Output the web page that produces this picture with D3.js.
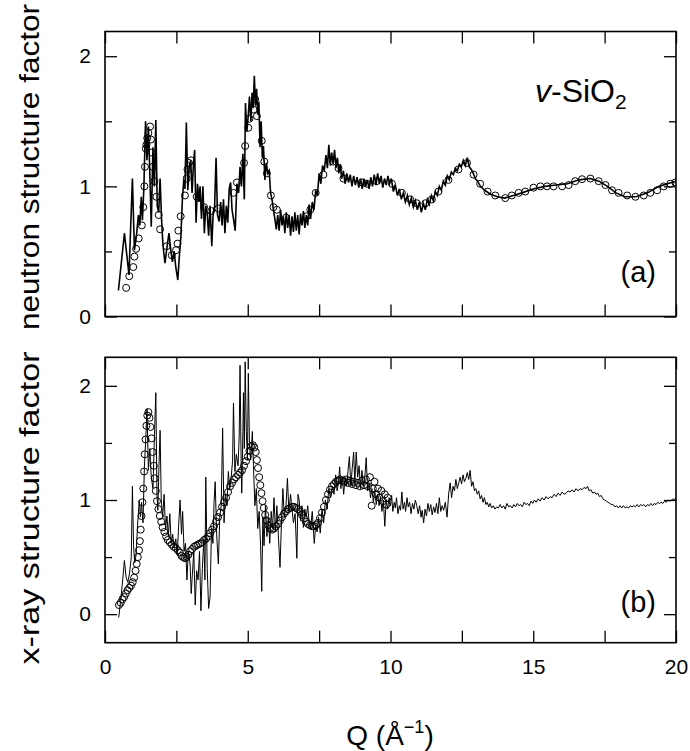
<!DOCTYPE html>
<html><head><meta charset="utf-8">
<script src="https://cdn.jsdelivr.net/npm/d3@7"></script>
<style>
body{margin:0;background:#fff}
text{font-family:"Liberation Sans",Arial,Helvetica,sans-serif;fill:#000}
</style>
</head><body>
<svg id="c" width="690" height="751"></svg>
<script>
// ---------------- data ----------------
const xTickValues = [0,2.5,5,7.5,10,12.5,15,17.5,20];
const xTickLabels = ["0","5","10","15","20"];
const yMajorTicks = [0,1,2];
const yMinorTicks = [0.5,1.5];

// panel (a): neutron structure factor, simulation (line)
const neutronLine = [
[0.47,0.20],[0.68,0.64],[0.84,0.32],[0.96,1.06],[1.03,0.51],[1.10,0.62],[1.17,0.78],[1.22,0.70],[1.27,0.92],[1.31,0.74],
[1.36,0.98],[1.42,1.50],[1.47,1.20],[1.52,1.46],[1.57,1.10],[1.62,0.69],[1.68,1.30],[1.73,1.00],[1.78,1.51],[1.83,0.85],
[1.88,0.80],[1.93,1.06],[1.98,0.75],[2.03,0.55],[2.10,0.41],[2.17,0.53],[2.24,0.64],[2.30,0.52],[2.36,0.42],[2.42,0.50],
[2.48,0.38],[2.55,0.28],[2.60,0.45],[2.66,0.62],[2.71,0.90],[2.76,1.05],[2.80,0.98],[2.85,1.49],[2.90,0.97],[2.95,1.15],
[3.00,1.20],[3.05,0.95],[3.10,1.18],[3.14,1.28],[3.19,0.72],[3.24,1.02],[3.29,0.88],[3.33,1.00],[3.38,0.75],[3.43,1.00],
[3.48,0.64],[3.53,0.85],[3.58,0.79],[3.63,0.62],[3.68,0.85],[3.74,0.54],[3.79,0.80],[3.84,0.85],[3.89,1.22],[3.94,0.78],
[4.00,0.73],[4.05,0.88],[4.10,0.70],[4.15,0.90],[4.20,0.64],[4.25,0.85],[4.30,0.72],[4.35,0.98],[4.40,1.03],[4.45,0.82],
[4.50,0.75],[4.56,0.66],[4.62,1.02],[4.68,0.95],[4.73,1.15],[4.78,1.00],[4.83,1.25],[4.88,0.90],[4.92,1.64],[4.97,1.42],
[5.02,1.55],[5.06,1.69],[5.11,1.50],[5.15,1.72],[5.19,1.60],[5.23,1.85],[5.27,1.62],[5.31,1.75],[5.35,1.55],[5.39,1.65],
[5.43,1.30],[5.47,1.50],[5.51,1.22],[5.55,1.31],[5.60,1.05],[5.65,1.18],[5.70,1.10],[5.75,1.12],[5.80,0.95],[5.85,0.90],
[5.90,0.82],[5.95,0.75],[6.00,0.67],[6.05,0.78],[6.10,0.66],[6.15,0.82],[6.20,0.70],[6.25,0.77],[6.30,0.64],[6.35,0.80],
[6.40,0.68],[6.45,0.78],[6.50,0.62],[6.55,0.77],[6.60,0.65],[6.65,0.80],[6.70,0.66],[6.75,0.78],[6.80,0.63],[6.85,0.79],
[6.90,0.70],[6.95,0.81],[7.00,0.68],[7.05,0.78],[7.10,0.70],[7.15,0.86],[7.20,0.75],[7.26,0.88],[7.32,0.82],[7.38,0.97],
[7.44,0.93],[7.50,1.10],[7.56,1.02],[7.62,1.16],[7.68,1.12],[7.74,1.24],[7.79,1.14],[7.84,1.32],[7.89,1.16],[7.94,1.26],
[7.99,1.17],[8.04,1.28],[8.09,1.14],[8.14,1.22],[8.19,1.10],[8.24,1.17],[8.29,1.06],[8.35,1.12],[8.41,1.02],[8.47,1.10],
[8.53,1.03],[8.59,1.09],[8.65,1.00],[8.71,1.08],[8.77,1.01],[8.83,1.07],[8.89,0.99],[8.95,1.06],[9.01,0.98],[9.07,1.06],
[9.13,1.00],[9.19,1.05],[9.25,0.98],[9.31,1.07],[9.37,1.00],[9.43,1.09],[9.49,1.01],[9.55,1.10],[9.61,1.02],[9.67,1.08],
[9.73,0.99],[9.79,1.06],[9.85,1.01],[9.91,1.08],[9.97,1.02],[10.03,1.06],[10.10,0.96],[10.17,1.01],[10.24,0.93],[10.31,0.98],
[10.38,0.90],[10.45,0.95],[10.52,0.88],[10.59,0.93],[10.66,0.86],[10.73,0.91],[10.80,0.84],[10.87,0.89],[10.94,0.82],[11.01,0.88],
[11.08,0.80],[11.15,0.87],[11.22,0.82],[11.29,0.90],[11.36,0.86],[11.43,0.93],[11.50,0.89],[11.57,0.96],[11.64,0.93],[11.71,1.00],
[11.78,0.97],[11.85,1.04],[11.92,1.01],[11.99,1.08],[12.06,1.05],[12.13,1.11],[12.20,1.09],[12.27,1.14],[12.34,1.12],[12.41,1.17],
[12.48,1.15],[12.55,1.20],[12.62,1.16],[12.69,1.22],[12.76,1.15],[12.83,1.13],[12.90,1.10],[12.97,1.06],[13.05,1.04],[13.15,1.00],
[13.30,0.97],[13.50,0.94],[13.75,0.92],[14.00,0.91],[14.30,0.93],[14.60,0.95],[15.00,0.98],[15.40,1.00],[15.80,1.01],[16.20,1.02],
[16.60,1.05],[17.00,1.06],[17.30,1.04],[17.60,1.00],[17.90,0.95],[18.20,0.92],[18.60,0.92],[19.00,0.95],[19.40,1.00],[19.70,1.02],
[20.00,1.04]
];

// panel (a): neutron structure factor, experiment (circles)
const neutronCircles = [
[0.74,0.22],[0.85,0.31],[0.99,0.38],[1.03,0.46],[1.09,0.52],[1.18,0.60],[1.29,0.70],[1.34,0.84],[1.38,1.00],[1.40,1.15],
[1.43,1.29],[1.45,1.32],[1.48,1.37],[1.52,1.41],[1.58,1.46],[1.61,1.36],[1.64,1.26],[1.67,1.15],[1.73,1.04],[1.80,0.92],
[1.88,0.78],[1.93,0.67],[2.16,0.54],[2.34,0.47],[2.49,0.51],[2.54,0.56],[2.57,0.66],[2.65,0.77],[2.80,0.93],[2.86,1.06],
[2.89,1.13],[2.94,1.18],[3.01,1.20],[3.21,0.92],[3.47,0.84],[3.72,0.81],[3.97,0.83],[4.50,0.95],[4.62,1.03],[4.87,1.18],
[4.91,1.31],[5.02,1.45],[5.06,1.52],[5.20,1.59],[5.26,1.67],[5.32,1.54],[5.49,1.35],[5.58,1.19],[5.67,1.10],[5.81,0.93],
[5.90,0.84],[6.02,0.82],[6.34,0.76],[7.07,0.77],[7.19,0.82],[7.38,0.95],[7.65,1.09],[8.00,1.19],[8.18,1.14],[8.35,1.06],
[9.00,1.03],[9.17,1.02],[9.52,1.04],[10.05,1.02],[10.40,0.95],[10.69,0.90],[10.92,0.87],[11.22,0.87],[11.45,0.90],[11.68,0.96],
[12.03,1.05],[12.38,1.13],[12.68,1.18],[12.91,1.09],[13.14,1.02],[13.40,0.96],[13.67,0.93],[14.02,0.91],[14.25,0.93],[14.49,0.95],
[14.72,0.96],[15.01,0.99],[15.25,1.00],[15.48,1.00],[15.71,1.00],[16.01,1.00],[16.24,1.01],[16.47,1.04],[16.71,1.055],[17.00,1.06],
[17.29,1.04],[17.53,1.01],[17.76,0.97],[17.99,0.95],[18.29,0.93],[18.58,0.92],[18.87,0.93],[19.10,0.95],[19.34,0.97],[19.57,1.00],
[19.80,1.02],[19.98,1.03]
];

// panel (b): x-ray structure factor, simulation (line)
const xrayLine = [
[0.48,-0.03],[0.55,0.12],[0.62,0.30],[0.68,0.47],[0.74,0.32],[0.80,0.28],[0.86,0.36],[0.92,0.50],[0.96,1.12],[1.00,0.60],
[1.04,0.45],[1.09,0.52],[1.14,0.78],[1.20,1.00],[1.24,0.85],[1.28,0.98],[1.33,0.80],[1.38,1.29],[1.43,1.55],[1.47,1.80],
[1.52,1.26],[1.57,1.45],[1.62,1.20],[1.68,1.10],[1.73,1.55],[1.78,1.94],[1.82,1.05],[1.85,0.91],[1.89,1.30],[1.93,1.61],
[1.97,1.00],[2.02,0.85],[2.07,1.05],[2.12,0.75],[2.17,0.86],[2.22,0.68],[2.27,0.88],[2.32,0.62],[2.37,0.70],[2.42,0.58],
[2.48,0.66],[2.53,0.52],[2.58,0.78],[2.63,1.00],[2.68,0.70],[2.72,0.90],[2.77,0.55],[2.82,0.62],[2.87,0.30],[2.92,0.55],
[2.98,0.44],[3.02,0.18],[3.06,0.35],[3.11,0.55],[3.16,0.08],[3.21,0.38],[3.26,0.30],[3.31,0.55],[3.36,0.03],[3.41,0.40],
[3.46,0.65],[3.50,0.30],[3.53,1.20],[3.58,0.40],[3.63,0.05],[3.68,0.15],[3.73,0.75],[3.78,0.62],[3.82,0.98],[3.86,1.16],
[3.91,0.70],[3.97,0.44],[4.02,0.85],[4.07,0.95],[4.12,1.63],[4.17,0.80],[4.22,1.05],[4.27,0.95],[4.32,1.25],[4.37,1.10],
[4.42,1.20],[4.47,1.35],[4.50,1.85],[4.55,1.25],[4.60,1.40],[4.66,1.30],[4.70,1.55],[4.73,2.18],[4.77,1.30],[4.79,1.06],
[4.83,1.60],[4.85,1.94],[4.88,1.45],[4.91,2.21],[4.95,1.60],[4.99,1.35],[5.02,2.11],[5.06,1.50],[5.10,1.35],[5.13,1.45],
[5.16,1.60],[5.20,1.30],[5.25,0.95],[5.30,1.10],[5.35,0.75],[5.40,0.90],[5.45,0.60],[5.49,0.20],[5.53,0.85],[5.57,0.60],
[5.62,0.95],[5.67,0.68],[5.72,0.85],[5.77,0.62],[5.82,0.90],[5.87,0.75],[5.92,1.02],[5.97,0.72],[6.02,0.95],[6.07,0.70],
[6.13,0.41],[6.18,0.80],[6.23,1.10],[6.28,0.85],[6.34,0.95],[6.39,1.19],[6.44,0.90],[6.50,1.05],[6.55,0.92],[6.60,0.80],
[6.66,0.88],[6.72,0.49],[6.76,1.05],[6.80,1.00],[6.85,0.82],[6.90,0.95],[6.95,0.76],[7.00,0.92],[7.05,0.85],[7.10,0.95],
[7.15,0.80],[7.20,0.75],[7.26,0.90],[7.33,0.62],[7.38,0.78],[7.43,0.72],[7.48,0.85],[7.54,0.71],[7.60,0.92],[7.66,0.80],
[7.72,1.00],[7.78,0.92],[7.84,1.10],[7.90,1.02],[7.96,1.12],[8.02,1.05],[8.08,1.22],[8.13,1.08],[8.18,1.15],[8.22,1.29],
[8.26,1.10],[8.31,1.20],[8.36,1.05],[8.41,1.20],[8.46,1.12],[8.51,1.25],[8.56,1.38],[8.61,1.12],[8.66,1.28],[8.71,1.42],
[8.75,1.15],[8.80,1.42],[8.85,1.20],[8.90,1.30],[8.95,1.10],[9.00,1.26],[9.05,1.12],[9.10,1.20],[9.15,1.37],[9.20,1.08],
[9.25,1.15],[9.30,1.02],[9.35,1.10],[9.40,0.98],[9.45,1.08],[9.50,0.96],[9.55,1.05],[9.60,0.95],[9.65,1.03],[9.70,0.90],
[9.75,1.00],[9.80,0.77],[9.85,1.00],[9.90,0.92],[9.95,1.02],[10.00,0.95],[10.04,1.04],[10.08,0.90],[10.13,0.98],[10.17,0.93],
[10.21,1.02],[10.26,0.88],[10.31,0.95],[10.35,0.91],[10.40,1.07],[10.44,0.92],[10.49,0.98],[10.53,0.90],[10.58,1.02],[10.62,0.94],
[10.67,0.98],[10.72,0.88],[10.77,0.97],[10.82,0.92],[10.87,1.00],[10.92,0.95],[10.97,0.88],[11.02,0.95],[11.07,0.85],[11.11,0.91],
[11.16,0.80],[11.21,0.92],[11.26,0.86],[11.31,0.97],[11.36,0.90],[11.41,0.96],[11.46,0.87],[11.51,0.94],[11.56,0.89],[11.61,0.97],
[11.66,0.88],[11.71,1.02],[11.76,0.90],[11.81,0.95],[11.86,0.91],[11.92,0.98],[11.98,0.85],[12.04,1.06],[12.09,1.15],[12.14,1.02],
[12.19,1.12],[12.24,1.08],[12.29,1.18],[12.34,1.10],[12.39,1.15],[12.44,1.20],[12.49,1.14],[12.54,1.22],[12.59,1.16],[12.64,1.19],
[12.69,1.24],[12.74,1.18],[12.79,1.26],[12.84,1.12],[12.89,1.16],[12.94,1.08],[12.99,1.10],[13.04,1.05],[13.09,1.08],[13.14,1.01],
[13.19,1.04],[13.24,0.98],[13.29,1.02],[13.34,0.96],[13.39,0.98],[13.44,0.94],[13.49,0.97],[13.54,0.93],[13.60,0.95],[13.66,0.92],
[13.72,0.94],[13.78,0.93],[13.84,0.96],[13.90,0.93],[13.96,0.95],[14.02,0.92],[14.08,0.97],[14.14,0.94],[14.20,0.95],[14.26,0.93],
[14.32,0.96],[14.38,0.94],[14.44,0.97],[14.50,0.95],[14.56,0.96],[14.62,0.94],[14.68,0.98],[14.74,0.96],[14.80,0.97],[14.86,0.95],
[14.92,0.99],[14.98,0.97],[15.04,1.00],[15.10,0.98],[15.17,1.01],[15.24,0.99],[15.31,1.02],[15.38,1.00],[15.45,1.03],[15.52,1.01],
[15.59,1.03],[15.66,1.02],[15.73,1.05],[15.80,1.03],[15.87,1.06],[15.94,1.04],[16.01,1.07],[16.08,1.05],[16.15,1.06],[16.22,1.08],
[16.29,1.07],[16.36,1.09],[16.43,1.07],[16.50,1.10],[16.57,1.08],[16.64,1.10],[16.71,1.09],[16.78,1.11],[16.85,1.10],[16.90,1.12],
[16.96,1.08],[17.02,1.09],[17.08,1.06],[17.14,1.07],[17.20,1.05],[17.26,1.06],[17.32,1.03],[17.38,1.04],[17.44,1.01],[17.50,1.00],
[17.56,0.99],[17.62,0.98],[17.68,0.97],[17.74,0.96],[17.80,0.96],[17.86,0.94],[17.92,0.95],[17.98,0.93],[18.04,0.95],[18.10,0.93],
[18.16,0.95],[18.22,0.93],[18.28,0.94],[18.34,0.93],[18.40,0.95],[18.46,0.94],[18.52,0.95],[18.58,0.94],[18.64,0.96],[18.70,0.94],
[18.76,0.96],[18.82,0.95],[18.88,0.96],[18.94,0.94],[19.00,0.96],[19.06,0.95],[19.12,0.97],[19.18,0.95],[19.24,0.97],[19.30,0.96],
[19.36,0.98],[19.42,0.97],[19.48,0.98],[19.54,0.97],[19.60,0.99],[19.66,0.98],[19.72,1.00],[19.78,0.99],[19.84,1.00],[19.90,1.01],
[19.95,1.00],[20.00,1.02]
];

// panel (b): x-ray structure factor, experiment (circles)
const xrayCircles = [
[0.49,0.08],[0.55,0.10],[0.61,0.13],[0.67,0.15],[0.73,0.18],[0.79,0.21],[0.85,0.23],[0.91,0.25],[0.97,0.28],[1.02,0.32],
[1.07,0.38],[1.11,0.44],[1.15,0.50],[1.19,0.56],[1.22,0.64],[1.25,0.74],[1.28,0.86],[1.31,0.98],[1.34,1.10],[1.37,1.25],
[1.39,1.40],[1.42,1.53],[1.45,1.65],[1.48,1.74],[1.52,1.77],[1.56,1.72],[1.59,1.64],[1.63,1.54],[1.67,1.42],[1.71,1.30],
[1.74,1.19],[1.78,1.08],[1.82,0.99],[1.87,0.92],[1.92,0.86],[1.97,0.81],[2.02,0.76],[2.08,0.72],[2.14,0.68],[2.20,0.65],
[2.27,0.63],[2.34,0.61],[2.41,0.59],[2.48,0.58],[2.55,0.56],[2.62,0.54],[2.68,0.51],[2.74,0.50],[2.80,0.49],[2.86,0.50],
[2.92,0.52],[2.98,0.55],[3.05,0.57],[3.12,0.59],[3.19,0.60],[3.26,0.61],[3.33,0.62],[3.40,0.63],[3.47,0.65],[3.54,0.66],
[3.61,0.68],[3.68,0.71],[3.75,0.74],[3.82,0.77],[3.89,0.81],[3.96,0.85],[4.03,0.89],[4.10,0.94],[4.17,0.98],[4.24,1.02],
[4.31,1.07],[4.38,1.12],[4.45,1.15],[4.52,1.18],[4.59,1.20],[4.66,1.22],[4.73,1.24],[4.80,1.26],[4.87,1.30],[4.94,1.34],
[5.00,1.38],[5.06,1.43],[5.12,1.47],[5.18,1.48],[5.23,1.46],[5.28,1.42],[5.32,1.35],[5.36,1.28],[5.40,1.20],[5.44,1.13],
[5.48,1.06],[5.52,0.99],[5.56,0.93],[5.61,0.87],[5.66,0.82],[5.72,0.78],[5.78,0.75],[5.85,0.74],[5.92,0.75],[5.99,0.77],
[6.06,0.79],[6.13,0.82],[6.20,0.85],[6.27,0.88],[6.34,0.90],[6.41,0.92],[6.48,0.93],[6.55,0.94],[6.62,0.94],[6.69,0.93],
[6.76,0.92],[6.83,0.90],[6.90,0.87],[6.97,0.84],[7.04,0.81],[7.11,0.79],[7.18,0.78],[7.25,0.77],[7.32,0.77],[7.39,0.78],
[7.46,0.80],[7.53,0.84],[7.60,0.89],[7.67,0.94],[7.74,1.00],[7.81,1.05],[7.88,1.09],[7.95,1.12],[8.02,1.14],[8.09,1.16],
[8.16,1.17],[8.23,1.18],[8.30,1.17],[8.37,1.16],[8.44,1.18],[8.51,1.15],[8.58,1.17],[8.65,1.14],[8.72,1.16],[8.79,1.13],
[8.86,1.15],[8.93,1.12],[9.00,1.17],[9.07,1.13],[9.14,1.18],[9.21,1.12],[9.28,1.20],[9.34,0.95],[9.38,1.10],[9.44,1.16],
[9.50,1.05],[9.56,1.10],[9.62,1.02],[9.68,1.08],[9.74,0.99],[9.80,1.05],[9.86,0.96],[9.90,1.02]
];

// ---------------- drawing ----------------
const svg = d3.select("#c");
const X0 = 105, X1 = 676;
const x = d3.scaleLinear().domain([0,20]).range([X0,X1]);
const panels = [
  {id:"a", top:31.5, bottom:316.5, domain:[0,2.19], line:neutronLine, circ:neutronCircles, lw:1.6,
   title:"neutron structure factor", tcy:167, tlen:326, tag:"(a)", tagY:282},
  {id:"b", top:357.3, bottom:642.7, domain:[-0.25,2.25], line:xrayLine, circ:xrayCircles, lw:1.0,
   title:"x-ray structure factor", tcy:508, tlen:313, tag:"(b)", tagY:612}
];

panels.forEach((p, i) => {
  const y = d3.scaleLinear().domain(p.domain).range([p.bottom, p.top]);
  const g = svg.append("g");
  const clipId = "clip"+p.id;
  svg.append("clipPath").attr("id", clipId).append("rect")
    .attr("x", X0).attr("y", p.top).attr("width", X1-X0).attr("height", p.bottom-p.top);

  const plot = g.append("g").attr("clip-path", `url(#${clipId})`);
  plot.append("path").datum(p.line)
    .attr("d", d3.line().x(d=>x(d[0])).y(d=>y(d[1])))
    .attr("fill","none").attr("stroke","#000").attr("stroke-width",p.lw).attr("stroke-linejoin","miter");
  plot.selectAll("circle").data(p.circ).join("circle")
    .attr("cx", d=>x(d[0])).attr("cy", d=>y(d[1])).attr("r", 3.5)
    .attr("fill","none").attr("stroke","#000").attr("stroke-width",1);

  // axes (ticks inward)
  const isBottom = i === 1;
  const fmt = v => (isBottom && v % 5 === 0) ? xTickLabels[v/5] : "";
  const axB = g.append("g").attr("transform",`translate(0,${p.bottom})`)
    .call(d3.axisBottom(x).tickValues(xTickValues).tickSize(-12).tickSizeOuter(0).tickPadding(16).tickFormat(fmt));
  const axT = g.append("g").attr("transform",`translate(0,${p.top})`)
    .call(d3.axisTop(x).tickValues(xTickValues).tickSize(-12).tickSizeOuter(0).tickFormat(""));
  const axL = g.append("g").attr("transform",`translate(${X0},0)`)
    .call(d3.axisLeft(y).tickValues(yMajorTicks).tickSize(-12).tickSizeOuter(0).tickPadding(14).tickFormat(d3.format("d")));
  const axLm = g.append("g").attr("transform",`translate(${X0},0)`)
    .call(d3.axisLeft(y).tickValues(yMinorTicks).tickSize(-7).tickSizeOuter(0).tickFormat(""));
  const axR = g.append("g").attr("transform",`translate(${X1},0)`)
    .call(d3.axisRight(y).tickValues(yMajorTicks).tickSize(-12).tickSizeOuter(0).tickFormat(""));
  const axRm = g.append("g").attr("transform",`translate(${X1},0)`)
    .call(d3.axisRight(y).tickValues(yMinorTicks).tickSize(-7).tickSizeOuter(0).tickFormat(""));
  [axB,axT,axL,axLm,axR,axRm].forEach(a => {
    a.select(".domain").remove();
    a.selectAll(".tick line").attr("stroke","#000").attr("stroke-width",1.3);
    a.selectAll(".tick text").attr("font-size",21).attr("font-family",'"Liberation Sans",Arial,sans-serif').attr("fill","#000");
  });

  g.append("rect").attr("x",X0).attr("y",p.top).attr("width",X1-X0).attr("height",p.bottom-p.top)
    .attr("fill","none").attr("stroke","#000").attr("stroke-width",1.6);

  // y title
  g.append("text").attr("transform",`translate(39,${p.tcy}) rotate(-90)`)
    .attr("text-anchor","middle").attr("font-size",27)
    .attr("textLength",p.tlen).attr("lengthAdjust","spacingAndGlyphs").text(p.title);

  // panel tag
  g.append("text").attr("x",656).attr("y", p.tagY).attr("text-anchor","end")
    .attr("font-size",29).text(p.tag);
});

// v-SiO2 label
const lab = svg.append("text").attr("x",535).attr("y",102).attr("font-size",32);
lab.append("tspan").attr("font-style","italic").text("v");
lab.append("tspan").text("-SiO");
lab.append("tspan").attr("font-size",21).attr("dy",7).text("2");

// x title
const xt = svg.append("text").attr("x",390).attr("y",745).attr("text-anchor","middle").attr("font-size",28);
xt.append("tspan").text("Q (Å");
xt.append("tspan").attr("font-size",18).attr("dy",-12).text("\u22121");
xt.append("tspan").attr("dy",12).text(")");
</script>
</body></html>
